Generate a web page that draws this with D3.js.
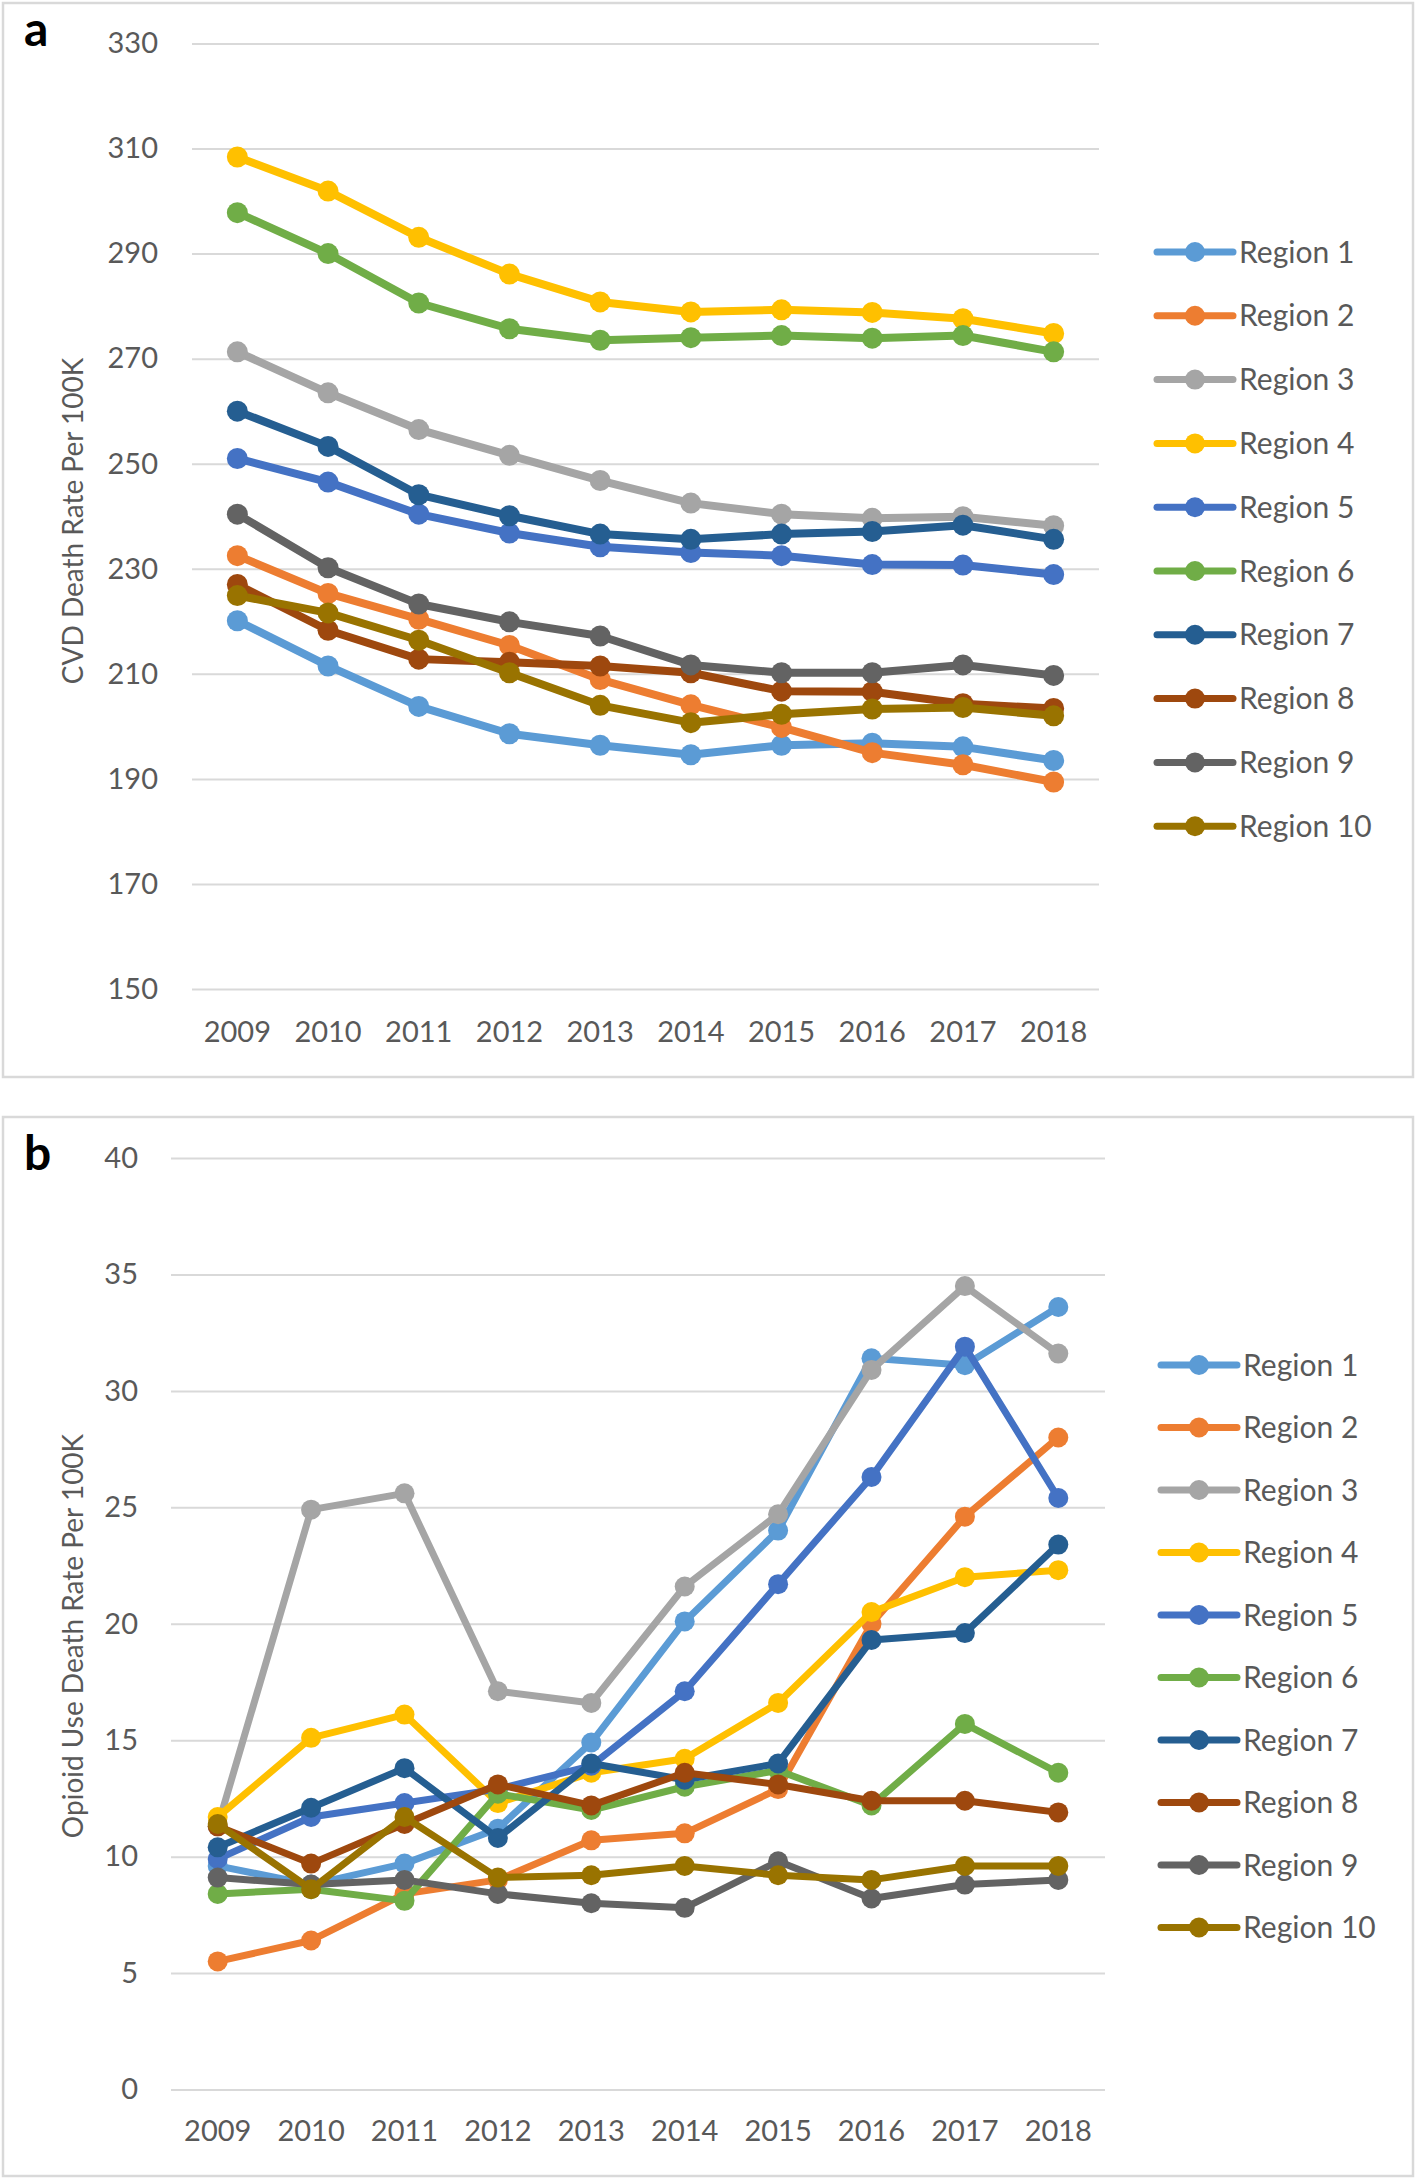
<!DOCTYPE html>
<html><head><meta charset="utf-8">
<script src="https://cdn.jsdelivr.net/npm/d3@7"></script>
<style>
body{margin:0;background:#fff;}
svg text{font-family:Lato,"Open Sans",sans-serif;}
</style></head>
<body><svg id="c" width="1416" height="2179"></svg>
<script>
const years = ["2009","2010","2011","2012","2013","2014","2015","2016","2017","2018"];
const regions = ["Region 1","Region 2","Region 3","Region 4","Region 5","Region 6","Region 7","Region 8","Region 9","Region 10"];
const colors = ["#5B9BD5","#ED7D31","#A5A5A5","#FFC000","#4472C4","#70AD47","#255E91","#9E480E","#636363","#997300"];

const cvdTicks = [150,170,190,210,230,250,270,290,310,330];
const cvdR1  = [220.1,211.5,203.8,198.6,196.4,194.6,196.4,196.8,196.1,193.5];
const cvdR2  = [232.5,225.3,220.4,215.4,208.9,204.1,199.8,195.0,192.7,189.4];
const cvdR3  = [271.3,263.5,256.5,251.6,246.8,242.5,240.4,239.6,239.9,238.2];
const cvdR4  = [308.4,301.9,293.1,286.1,280.8,278.9,279.3,278.8,277.6,274.8];
const cvdR5  = [251.0,246.5,240.4,236.8,234.2,233.1,232.5,230.8,230.7,228.9];
const cvdR6  = [297.8,290.0,280.6,275.7,273.5,274.0,274.4,273.9,274.4,271.3];
const cvdR7  = [260.0,253.3,244.1,240.1,236.6,235.6,236.6,237.1,238.3,235.6];
const cvdR8  = [227.0,218.3,212.8,212.2,211.5,210.2,206.7,206.6,204.3,203.4];
const cvdR9  = [240.4,230.2,223.3,219.9,217.2,211.7,210.2,210.2,211.7,209.7];
const cvdR10 = [224.9,221.6,216.4,210.2,204.0,200.7,202.3,203.3,203.6,202.0];

const opiTicks = [0,5,10,15,20,25,30,35,40];
const opiR1  = [9.6,8.8,9.7,11.2,14.9,20.1,24.0,31.4,31.1,33.6];
const opiR2  = [5.5,6.4,8.4,9.0,10.7,11.0,12.9,20.0,24.6,28.0];
const opiR3  = [11.3,24.9,25.6,17.1,16.6,21.6,24.7,30.9,34.5,31.6];
const opiR4  = [11.7,15.1,16.1,12.3,13.6,14.2,16.6,20.5,22.0,22.3];
const opiR5  = [9.9,11.7,12.3,12.9,13.9,17.1,21.7,26.3,31.9,25.4];
const opiR6  = [8.4,8.6,8.1,12.7,12.0,13.0,13.7,12.2,15.7,13.6];
const opiR7  = [10.4,12.1,13.8,10.8,14.0,13.3,14.0,19.3,19.6,23.4];
const opiR8  = [11.3,9.7,11.4,13.1,12.2,13.6,13.1,12.4,12.4,11.9];
const opiR9  = [9.1,8.8,9.0,8.4,8.0,7.8,9.8,8.2,8.8,9.0];
const opiR10 = [11.4,8.6,11.7,9.1,9.2,9.6,9.2,9.0,9.6,9.6];

const svg = d3.select("#c");

function panel(cfg){
  const g = svg.append("g");
  g.append("rect").attr("x",cfg.frame[0]).attr("y",cfg.frame[1])
    .attr("width",cfg.frame[2]).attr("height",cfg.frame[3])
    .attr("fill","#fff").attr("stroke","#D9D9D9").attr("stroke-width",2.5);
  g.append("text").attr("x",cfg.letter[0]).attr("y",cfg.letter[1])
    .attr("font-family","Liberation Sans, Arial, sans-serif").attr("font-weight","bold")
    .attr("font-size",48).attr("fill","#000").text(cfg.letterText);

  const x = d3.scaleBand().domain(years).range([cfg.x0,cfg.x1]);
  const y = d3.scaleLinear().domain(cfg.domain).range([cfg.y0,cfg.y1]);

  const yAxis = d3.axisLeft(y).tickValues(cfg.ticks).tickSize(-(cfg.x1-cfg.x0)).tickPadding(cfg.tickPad);
  const ya = g.append("g").attr("transform",`translate(${cfg.x0},0)`).call(yAxis);
  ya.select(".domain").remove();
  ya.selectAll("line").attr("stroke","#D9D9D9").attr("stroke-width",2);
  ya.selectAll("text").attr("font-size",29).attr("fill","#595959").attr("font-family","Lato, sans-serif");

  const xAxis = d3.axisBottom(x).tickSize(0).tickPadding(0);
  const xa = g.append("g").attr("transform",`translate(0,${cfg.xLabelY})`).call(xAxis);
  xa.select(".domain").remove();
  xa.selectAll("text").attr("font-size",29).attr("fill","#595959").attr("dy","0.35em").attr("font-family","Lato, sans-serif");

  g.append("text").attr("transform",`translate(${cfg.titleX},${cfg.titleY}) rotate(-90)`)
    .attr("text-anchor","middle").attr("dy","0.35em")
    .attr("font-family","Open Sans, sans-serif").attr("font-size",28).attr("fill","#595959")
    .text(cfg.title);

  const line = d3.line().x((d,i)=>x(years[i])+x.bandwidth()/2).y(d=>y(d));
  cfg.series.forEach((s,k)=>{
    const sg = g.append("g");
    sg.append("path").datum(s).attr("d",line).attr("fill","none")
      .attr("stroke",colors[k]).attr("stroke-width",cfg.lw).attr("stroke-linejoin","round").attr("stroke-linecap","round");
    sg.selectAll("circle").data(s).join("circle")
      .attr("cx",(d,i)=>x(years[i])+x.bandwidth()/2).attr("cy",d=>y(d))
      .attr("r",cfg.r).attr("fill",colors[k]);
  });

  const lg = g.append("g");
  regions.forEach((name,k)=>{
    const yy = cfg.legY0 + k*cfg.legStep;
    lg.append("line").attr("x1",cfg.legX0).attr("x2",cfg.legX1).attr("y1",yy).attr("y2",yy)
      .attr("stroke",colors[k]).attr("stroke-width",cfg.legLw).attr("stroke-linecap","round");
    lg.append("circle").attr("cx",(cfg.legX0+cfg.legX1)/2).attr("cy",yy).attr("r",cfg.legR).attr("fill",colors[k]);
    lg.append("text").attr("x",cfg.legX1+6).attr("y",yy).attr("dy","0.35em")
      .attr("font-size",30).attr("fill","#595959").attr("font-family","Lato, sans-serif").text(name);
  });
}

panel({
  frame:[3,3,1410,1074], letter:[24,46], letterText:"a",
  x0:192, x1:1099, y0:989, y1:43.5, domain:[150,330], ticks:cvdTicks, tickPad:34,
  xLabelY:1032, titleX:73, titleY:521, title:"CVD Death Rate Per 100K",
  series:[cvdR1,cvdR2,cvdR3,cvdR4,cvdR5,cvdR6,cvdR7,cvdR8,cvdR9,cvdR10],
  lw:8, r:10.5, legX0:1157, legX1:1233, legY0:252, legStep:63.8, legLw:7, legR:10
});

panel({
  frame:[3,1117,1410,1059], letter:[24,1170], letterText:"b",
  x0:171, x1:1105, y0:2089.5, y1:1158, domain:[0,40], ticks:opiTicks, tickPad:33,
  xLabelY:2131, titleX:73, titleY:1636, title:"Opioid Use Death Rate Per 100K",
  series:[opiR1,opiR2,opiR3,opiR4,opiR5,opiR6,opiR7,opiR8,opiR9,opiR10],
  lw:7, r:10, legX0:1161, legX1:1237, legY0:1365, legStep:62.5, legLw:7, legR:10
});
</script></body></html>
